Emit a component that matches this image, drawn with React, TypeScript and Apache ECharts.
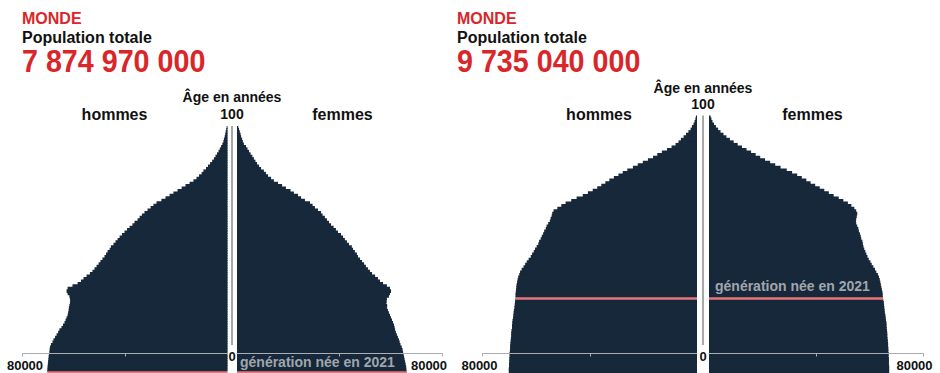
import React, { useEffect, useRef } from 'react';
import * as echarts from 'echarts';

// ---------- data ----------
const AGES: string[] = Array.from({ length: 101 }, (_, i) => String(i));
const YEARS = [2021, 2050];
const BIRTH_YEAR = 2021;
const REGION = 'MONDE';
const TOTALS = ['7 874 970 000', '9 735 040 000'];
const AXIS_MAX = 80000;
const AXIS_TICKS = [40000, 80000];
const AXIS_LABELS = [80000];

// population by single age (thousands), age 0 .. 100
const MEN_2021 = [
  70400, 70300, 70200, 70100, 70000, 69900, 69800, 69700, 69500, 69400,
  69300, 68900, 68300, 67900, 67300, 66700, 66100, 65600, 64800, 64200,
  63600, 63200, 62800, 62400, 62200, 62000, 61900, 61700, 61500, 61400,
  61500, 61700, 62400, 62800, 62400, 60500, 58500, 57200, 56200, 55000,
  53700, 52700, 51900, 51100, 50300, 49600, 48800, 48000, 47400, 46800,
  46000, 45500, 44500, 43700, 42900, 42100, 41200, 40200, 39200, 38200,
  37100, 36300, 35100, 34300, 33400, 32400, 31200, 30000, 28900, 27700,
  25800, 24200, 22600, 21100, 19500, 17900, 16400, 14800, 13300, 12100,
  11100, 10100, 9400, 8400, 7600, 6800, 6000, 5300, 4700, 4100,
  3500, 3000, 2500, 2000, 1600, 1400, 1100, 900, 700, 500,
  300,
];
const WOMEN_2021 = [
  66300, 66100, 66000, 65800, 65600, 65400, 65200, 65000, 64800, 64600,
  64300, 63800, 63500, 63200, 62800, 62400, 62000, 61700, 61500, 61300,
  60900, 60500, 60100, 59700, 59300, 58900, 58500, 58600, 58300, 58400,
  58500, 59300, 59700, 60100, 59700, 58500, 57000, 55800, 55000, 53900,
  52700, 51900, 51100, 50300, 49600, 48800, 48000, 47200, 46800, 46000,
  45300, 44800, 43700, 42900, 42100, 41400, 40600, 39400, 38600, 37700,
  36700, 35900, 35100, 34300, 33400, 32800, 31600, 30400, 29500, 28500,
  26500, 25000, 23800, 22200, 20900, 19100, 17600, 16000, 14400, 13300,
  12100, 11300, 10500, 9400, 8600, 7800, 7200, 6600, 6000, 5300,
  4700, 4100, 3500, 2700, 2300, 2000, 1600, 1400, 1100, 800,
  500,
];
const MEN_2050 = [
  70200, 70200, 70100, 70100, 70000, 70000, 69900, 69900, 69800, 69700,
  69700, 69600, 69500, 69400, 69300, 69300, 69200, 69000, 69000, 68900,
  68800, 68600, 68500, 68400, 68300, 68100, 68000, 67900, 67800, 67700,
  67700, 67600, 67500, 67400, 67300, 67100, 66900, 66700, 66300, 66000,
  65400, 64700, 64100, 63500, 62800, 62000, 61500, 60900, 60400, 59800,
  59200, 58900, 58300, 57900, 57400, 57000, 56400, 56100, 55500, 54900,
  54600, 54200, 54000, 53500, 52100, 50600, 49000, 46900, 44900, 42600,
  40700, 38900, 37200, 35700, 34200, 32700, 31000, 29300, 27700, 26000,
  23900, 22100, 20200, 18300, 16400, 14800, 13100, 11200, 9500, 8000,
  6900, 6000, 5000, 4100, 3200, 2400, 1900, 1300, 900, 600,
  400,
];
const WOMEN_2050 = [
  67200, 67200, 67200, 67100, 67100, 67100, 67000, 67000, 66900, 66900,
  66800, 66800, 66700, 66600, 66500, 66500, 66400, 66300, 66200, 66200,
  66000, 65900, 65800, 65600, 65500, 65400, 65300, 65200, 65000, 64900,
  64800, 64700, 64500, 64300, 64100, 63900, 63700, 63400, 63000, 62400,
  61900, 61300, 60700, 60200, 59600, 59100, 58700, 58300, 57900, 57600,
  57400, 57200, 56800, 56600, 56300, 55900, 55700, 55300, 54900, 54800,
  54900, 55100, 55300, 54900, 54200, 53100, 51800, 50100, 48400, 46500,
  44700, 43000, 41300, 39600, 37900, 36300, 34600, 32900, 31000, 29000,
  26700, 24700, 22800, 20900, 19100, 17400, 15700, 14000, 12300, 10700,
  9200, 7800, 6500, 5400, 4300, 3400, 2600, 1900, 1300, 900,
  600,
];
const MEN = [MEN_2021, MEN_2050];
const WOMEN = [WOMEN_2021, WOMEN_2050];

// ---------- styles / layout ----------
const FONT = '"Liberation Sans", Arial, Helvetica, sans-serif';
const NAVY = '#16283a';
const RED_BAR = '#e5777a';
const TITLE_RED = '#d9262a';
const LABEL_GREY = '#a0a6ac';
const AXIS_GREY = '#a9aeb4';

const PANELS = [
  {
    cx: 232, menRight: 227.5, womenLeft: 237, w: 205, top: 126, height: 247, axisY: 353.5,
    titleX: 22, ageY: 97, hundredY: 114, hommesX: 114.5, femmesX: 342.5, sexY: 114.5,
    labelDist: 3, labelDy: -9.5,
    menLabelPad: [0, 0, 0, 5], womenLabelPad: [0, 26, 0, 0],
  },
  {
    cx: 703, menRight: 697, womenLeft: 709, w: 214.5, top: 115.5, height: 257.5, axisY: 353.5,
    titleX: 457, ageY: 88, hundredY: 103.5, hommesX: 599, femmesX: 812.5, sexY: 114.5,
    labelDist: 6, labelDy: -11.5,
    menLabelPad: [0, 6, 0, 0], womenLabelPad: [0, 18, 0, 0],
  },
];

function text(x: number, y: number, t: string, size: number, fill: string, align = 'left', scaleX = 1) {
  return {
    type: 'text', x, y, scaleX, z: 20,
    style: { text: t, fill, fontSize: size, fontWeight: 'bold', fontFamily: FONT, align, verticalAlign: 'middle' },
  };
}

function buildOption() {
  const grid: any[] = [];
  const xAxis: any[] = [];
  const yAxis: any[] = [];
  const series: any[] = [];
  const graphic: any[] = [];

  PANELS.forEach((p, pi) => {
    const hi = YEARS[pi] - BIRTH_YEAR;
    const sides = [
      { left: p.menRight - p.w, data: MEN[pi], inverse: true, women: false, pad: p.menLabelPad },
      { left: p.womenLeft, data: WOMEN[pi], inverse: false, women: true, pad: p.womenLabelPad },
    ];
    sides.forEach((s) => {
      const idx = grid.length;
      grid.push({ left: s.left, width: p.w, top: p.top, height: p.height, outerBoundsMode: 'none', containLabel: false });
      xAxis.push({
        gridIndex: idx, type: 'value', min: 0, max: AXIS_MAX, interval: 40000, inverse: s.inverse,
        position: 'bottom', offset: -(p.top + p.height - p.axisY), z: 10,
        axisLine: { show: true, lineStyle: { color: AXIS_GREY, width: 1 } },
        axisTick: { show: true, length: 3, customValues: AXIS_TICKS, lineStyle: { color: AXIS_GREY } },
        axisLabel: {
          show: true, customValues: AXIS_LABELS, margin: 5, color: '#111', fontSize: 13,
          fontWeight: 'bold', fontFamily: FONT, showMaxLabel: true, showMinLabel: true,
          align: 'center', padding: s.pad,
          formatter: (v: number) => String(v),
        },
        splitLine: { show: false },
      });
      yAxis.push({
        gridIndex: idx, type: 'category', data: AGES, show: false,
        axisLine: { show: false }, axisTick: { show: false }, axisLabel: { show: false },
      });
      series.push({
        type: 'bar', xAxisIndex: idx, yAxisIndex: idx, silent: true,
        barWidth: '150%',
        itemStyle: { color: NAVY, borderWidth: 0 },
        data: s.data.map((v, i) => {
          if (i !== hi) return v;
          const item: any = { value: v, itemStyle: { color: RED_BAR } };
          if (s.women) {
            item.label = {
              show: true, position: 'insideLeft', distance: p.labelDist, offset: [0, p.labelDy],
              formatter: 'génération née en ' + BIRTH_YEAR, color: LABEL_GREY,
              fontSize: 14, fontWeight: 'bold', fontFamily: FONT,
            };
          }
          return item;
        }),
      });
    });

    graphic.push({
      type: 'line', z: 15,
      shape: { x1: p.cx, y1: p.top, x2: p.cx, y2: 345 },
      style: { stroke: '#a8a8a8', lineWidth: 2 },
    });
    graphic.push(text(p.cx, 356, '0', 13, '#111', 'center'));
    graphic.push(text(p.titleX, 18, REGION, 16, TITLE_RED));
    graphic.push(text(p.titleX, 37.7, 'Population totale', 16, '#111'));
    graphic.push(text(p.titleX, 61.5, TOTALS[pi], 31, TITLE_RED, 'left', 0.925));
    graphic.push(text(p.cx, p.ageY, 'Âge en années', 14, '#111', 'center'));
    graphic.push(text(p.cx, p.hundredY, '100', 14, '#111', 'center'));
    graphic.push(text(p.hommesX, p.sexY, 'hommes', 16, '#111', 'center'));
    graphic.push(text(p.femmesX, p.sexY, 'femmes', 16, '#111', 'center'));
  });

  return {
    animation: false,
    backgroundColor: '#ffffff',
    textStyle: { fontFamily: FONT },
    grid, xAxis, yAxis, series, graphic,
  };
}

export default function App() {
  const ref = useRef<HTMLDivElement>(null);
  useEffect(() => {
    if (!ref.current) return;
    const chart = echarts.init(ref.current, undefined, { renderer: 'svg' });
    chart.setOption(buildOption() as any);
    return () => chart.dispose();
  }, []);
  return (
    <div
      ref={ref}
      style={{ position: 'absolute', left: 0, top: 0, width: 940, height: 373, background: '#fff' }}
    />
  );
}
